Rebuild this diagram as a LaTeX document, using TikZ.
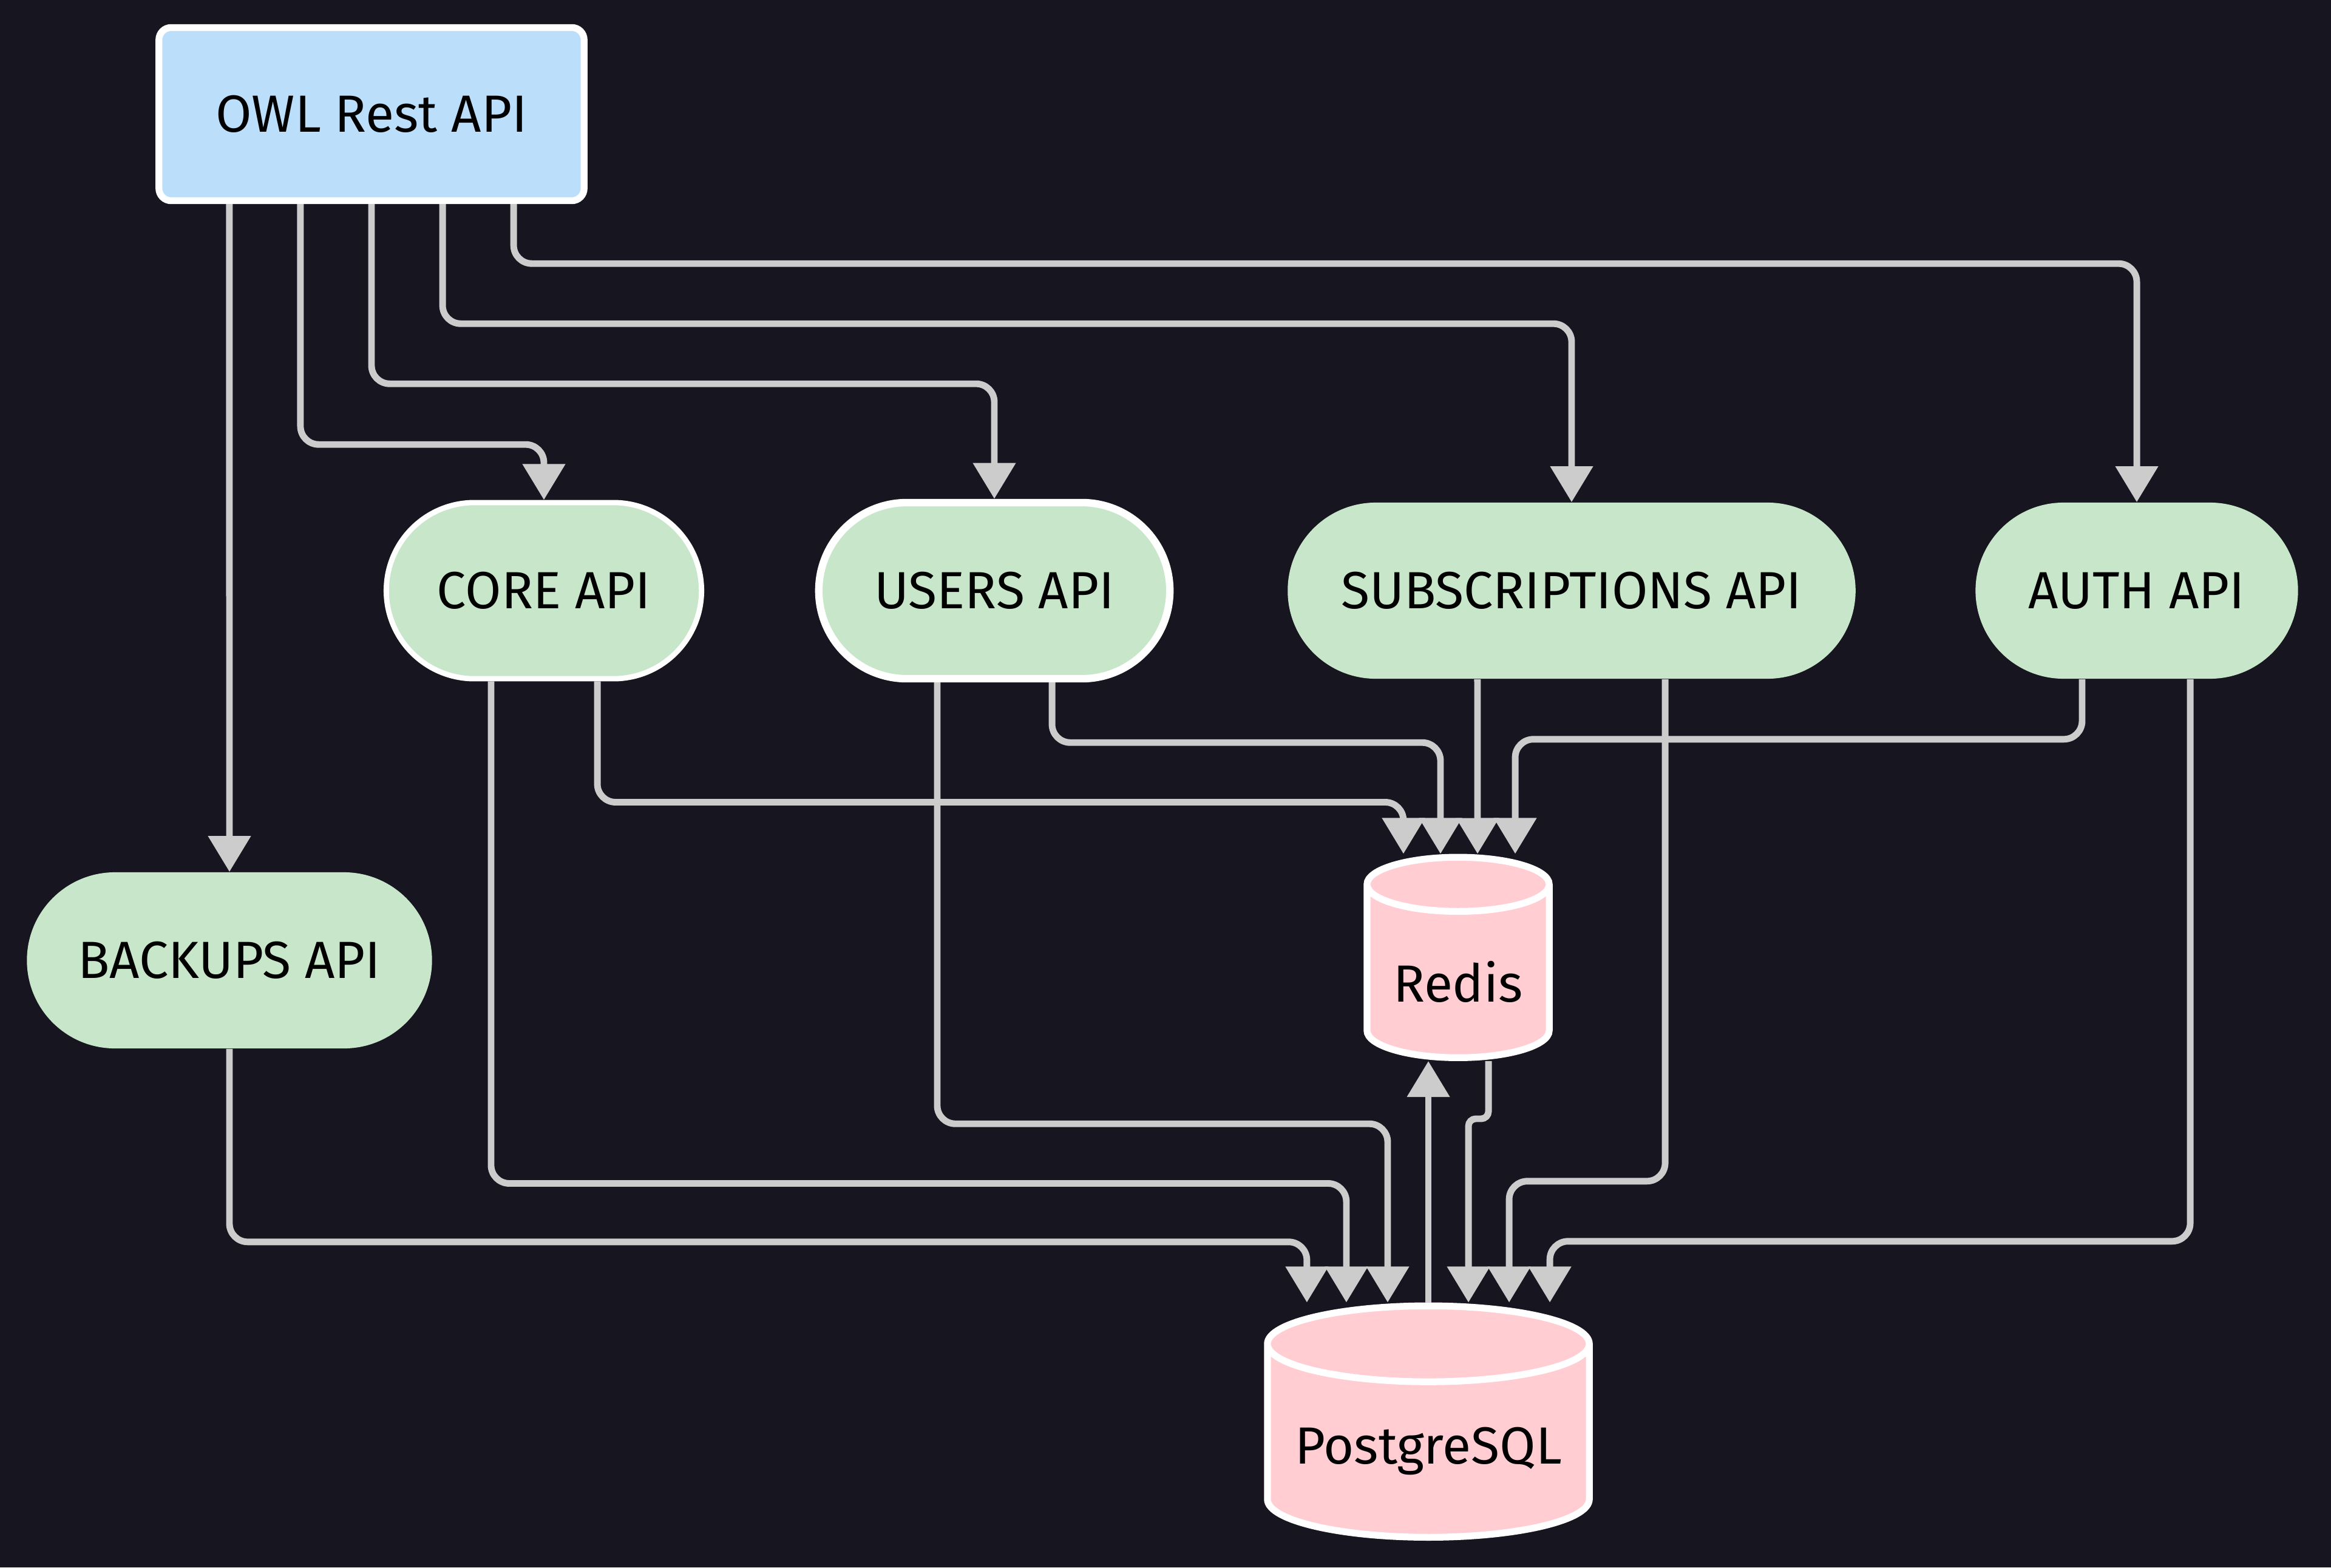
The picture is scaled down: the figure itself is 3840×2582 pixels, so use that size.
\documentclass[tikz,border=0pt]{standalone}
\usepackage{fontspec}
\setmainfont{Fira Sans}
\usetikzlibrary{shapes.misc,shapes.geometric,arrows.meta}
\definecolor{bgdark}{HTML}{17151F}
\definecolor{wire}{HTML}{CCCCCC}
\definecolor{apiblue}{HTML}{BBDEFB}
\definecolor{apigreen}{HTML}{C8E6C9}
\definecolor{dbpink}{HTML}{FFCDD2}

\begin{document}
\begin{tikzpicture}[x=0.01cm,y=-0.01cm,
    every node/.style={font=\fontsize{24.5}{29}\selectfont,text=black},
    apibox/.style={rectangle,rounded corners=0.2cm,draw=white,line width=3.2pt,fill=apiblue,minimum width=7cm,minimum height=2.85cm},
    svcpill/.style={rounded rectangle,fill=apigreen,minimum height=2.9cm,inner xsep=0pt},
    dbcyl/.style={cylinder,shape border rotate=90,draw=white,line width=3.2pt,cylinder uses custom fill,cylinder body fill=dbpink,cylinder end fill=dbpink,text depth=0pt},
    link/.style={draw=wire,line width=3.1pt,rounded corners=0.3cm,-{Triangle[width=0.68cm,length=0.59cm]}}]
    \fill[bgdark] (0,0) rectangle (3840,2582);
    \useasboundingbox (0,0) rectangle (3840,2582);

    \node[apibox] (owl) at (612,188) {OWL Rest API};
    \node[svcpill,draw=white,line width=2.5pt,minimum width=5.19cm] (core) at (896,973) {CORE API};
    \node[svcpill,draw=white,line width=3.5pt,minimum width=5.78cm] (users) at (1638,973) {USERS API};
    \node[svcpill,minimum width=9.35cm] (subs) at (2589,973) {SUBSCRIPTIONS API};
    \node[svcpill,minimum width=5.31cm] (auth) at (3520,973) {AUTH API};
    \node[svcpill,minimum width=6.67cm] (backups) at (378,1582) {BACKUPS API};
    \node[dbcyl,aspect=0.376,text height=0.78cm,minimum width=3.0cm,minimum height=3.3cm] (redis) at (2402,1611) {Redis};
    \node[dbcyl,aspect=0.27,text height=0.52cm,minimum width=5.3cm,minimum height=3.81cm] (postgres) at (2353,2385) {PostgreSQL};

    % gateway fans out
    \draw[link] ([xshift=-2.34cm]owl.south) -- (backups.north);
    \foreach \dx/\drop/\svc in {-1.17/396/core,0/296/users,1.17/197/subs,2.34/98/auth}
    \draw[link] ([xshift=\dx cm]owl.south) -- ++(0,\drop) -| (\svc.north);

    % services to redis
    \draw[link] ([xshift=0.88cm]core.south) -- ++(0,199) -| ([xshift=-0.90cm]redis.north);
    \draw[link] ([xshift=0.95cm]users.south) -- ++(0,99) -| ([xshift=-0.29cm]redis.north);
    \draw[link] ([xshift=-1.55cm]subs.south) -- ([xshift=0.32cm]redis.north);
    \draw[link] ([xshift=-0.90cm]auth.south) -- ++(0,99) -| ([xshift=0.94cm]redis.north);

    % services to postgres
    \draw[link] (backups.south) -- ++(0,318) -| ([xshift=-2.0cm]postgres.north);
    \draw[link] ([xshift=-0.87cm]core.south) -- ++(0,827) -| ([xshift=-1.35cm]postgres.north);
    \draw[link] ([xshift=-0.94cm]users.south) -- ++(0,727) -| ([xshift=-0.67cm]postgres.north);
    \draw[link] ([xshift=1.54cm]subs.south) -- ++(0,827) -| ([xshift=1.33cm]postgres.north);
    \draw[link] ([xshift=0.88cm]auth.south) -- ++(0,926) -| ([xshift=2.0cm]postgres.north);

    % redis <-> postgres
    \draw[link,rounded corners=0.12cm] ([xshift=0.5cm]redis.south) -- ++(0,95) -| ([xshift=0.66cm]postgres.north);
    \draw[link] (postgres.north) -- (postgres.north |- redis.south);
\end{tikzpicture}
\end{document}
